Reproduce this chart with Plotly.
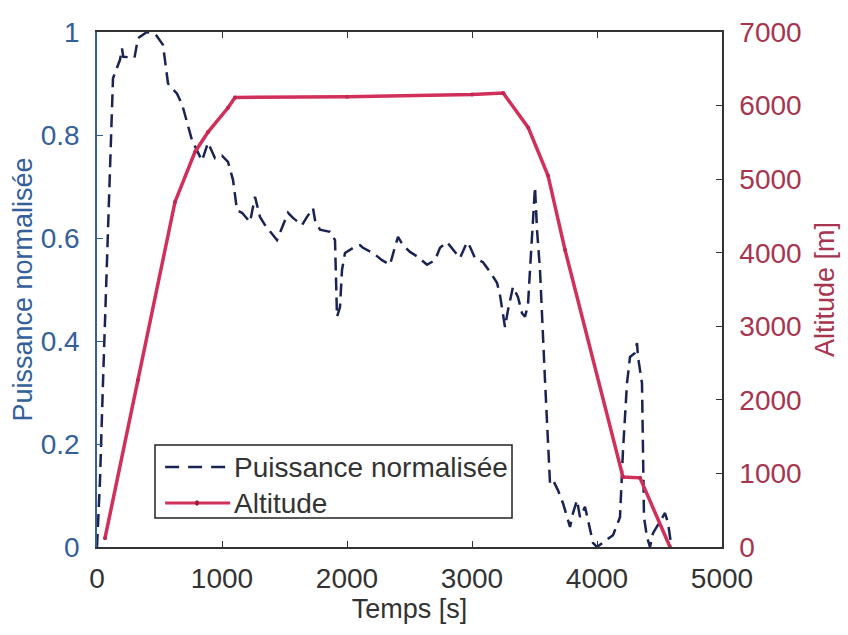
import plotly.graph_objects as go

# ---- data ----
time_power = [0, 24, 48, 88, 112, 128, 184, 200, 210, 300, 328, 400, 470, 528, 568, 640, 680,
              760, 840, 888, 944, 1000, 1048, 1088, 1120, 1160, 1224, 1264, 1304, 1344, 1440,
              1464, 1528, 1568, 1640, 1680, 1728, 1744, 1784, 1864, 1904, 1920, 1944, 1960,
              1984, 2064, 2104, 2128, 2208, 2280, 2344, 2384, 2408, 2448, 2504, 2568, 2640,
              2704, 2744, 2800, 2864, 2904, 2960, 2984, 3024, 3088, 3144, 3200, 3224, 3264,
              3288, 3328, 3368, 3400, 3424, 3448, 3464, 3488, 3504, 3520, 3544, 3584, 3616,
              3624, 3648, 3688, 3728, 3784, 3808, 3840, 3864, 3904, 3928, 3968, 4000, 4080,
              4128, 4184, 4208, 4240, 4264, 4304, 4320, 4328, 4360, 4376, 4400, 4424, 4448,
              4544, 4568, 4590]
power = [0.0, 0.13, 0.32, 0.62, 0.79, 0.91, 0.946, 0.968, 0.952, 0.95, 0.988, 1.0, 0.995,
         0.975, 0.90, 0.88, 0.86, 0.79, 0.75, 0.785, 0.755, 0.76, 0.748, 0.713, 0.654, 0.649,
         0.631, 0.68, 0.641, 0.625, 0.596, 0.61, 0.649, 0.639, 0.625, 0.641, 0.658, 0.635,
         0.616, 0.612, 0.596, 0.447, 0.466, 0.538, 0.571, 0.583, 0.586, 0.581, 0.571, 0.557,
         0.548, 0.583, 0.602, 0.586, 0.573, 0.563, 0.548, 0.557, 0.581, 0.592, 0.573, 0.561,
         0.592, 0.583, 0.561, 0.553, 0.534, 0.513, 0.489, 0.427, 0.46, 0.505, 0.485, 0.454,
         0.447, 0.47, 0.538, 0.649, 0.699, 0.616, 0.538, 0.324, 0.14, 0.124, 0.13, 0.11,
         0.085, 0.039, 0.066, 0.091, 0.058, 0.078, 0.052, 0.008, 0.0, 0.014, 0.023, 0.058,
         0.188, 0.318, 0.369, 0.377, 0.396, 0.369, 0.318, 0.058, 0.019, 0.0, 0.027, 0.066,
         0.047, 0.01]

time_alt = [64, 328, 624, 784, 888, 1048, 1104, 2000, 3000, 3250, 3450, 3608, 3744, 4208,
            4344, 4584]
altitude = [120, 2270, 4690, 5370, 5640, 5970, 6110, 6120, 6150, 6170, 5700, 5050, 4040,
            950, 940, 0]

series_names = ["Puissance normalisée", "Altitude"]
x_ticks = [0, 1000, 2000, 3000, 4000, 5000]
y_left_ticks = [0, 0.2, 0.4, 0.6, 0.8, 1]
y_left_labels = ["0", "0.2", "0.4", "0.6", "0.8", "1"]
y_right_ticks = [0, 1000, 2000, 3000, 4000, 5000, 6000, 7000]

BLUE = "#34609a"
RED_TXT = "#a8354f"
NAVY = "#1b2352"
RED_LINE = "#d0305a"
FONT = "Liberation Sans, Arial, sans-serif"
TICK_SIZE = 28
TITLE_SIZE = 27
DASH = "13px,7px"

fig = go.Figure()
fig.add_trace(go.Scatter(
    x=time_power, y=power, name=series_names[0], mode="lines",
    line=dict(color=NAVY, width=2.5, dash=DASH), yaxis="y", showlegend=False))
fig.add_trace(go.Scatter(
    x=time_alt, y=altitude, name=series_names[1], mode="lines+markers",
    line=dict(color=RED_LINE, width=3.5), marker=dict(size=4, color="#c02850"),
    yaxis="y2", showlegend=False))

# ---- legend box drawn in paper coordinates (MATLAB style) ----
shapes = [
    dict(type="rect", xref="paper", yref="paper", x0=0.0928, x1=0.664, y0=0.0563, y1=0.198,
         line=dict(color="#222", width=1.5), fillcolor="white", layer="above"),
    dict(type="line", xref="paper", yref="paper", x0=0.109, x1=0.213, y0=0.1553, y1=0.1553,
         line=dict(color=NAVY, width=2.5, dash="14px,9px"), layer="above"),
    dict(type="line", xref="paper", yref="paper", x0=0.109, x1=0.213, y0=0.0854, y1=0.0854,
         line=dict(color=RED_LINE, width=3), layer="above"),
    dict(type="circle", xref="paper", yref="paper", x0=0.1575, x1=0.1625,
         y0=0.0854 - 0.0045, y1=0.0854 + 0.0045,
         line=dict(color="#a02040", width=1), fillcolor="#a02040", layer="above"),
]
annotations = [
    dict(xref="paper", yref="paper", x=0.216, y=0.1553, text=series_names[0],
         showarrow=False, xanchor="left", yanchor="middle",
         font=dict(size=TICK_SIZE, color="#333")),
    dict(xref="paper", yref="paper", x=0.216, y=0.0854, text=series_names[1],
         showarrow=False, xanchor="left", yanchor="middle",
         font=dict(size=TICK_SIZE, color="#333")),
]

fig.update_layout(
    width=848, height=635,
    margin=dict(l=97, r=126, t=32, b=88),
    paper_bgcolor="white", plot_bgcolor="white",
    font=dict(family=FONT, size=TICK_SIZE, color="#333"),
    showlegend=False,
    shapes=shapes, annotations=annotations,
    xaxis=dict(range=[0, 5000], tickvals=x_ticks, ticks="inside", ticklen=6,
               showline=True, linecolor="#333", linewidth=1.5, mirror="ticks",
               tickcolor="#333", showgrid=False, zeroline=False,
               tickfont=dict(size=TICK_SIZE, color="#333"), ticklabelstandoff=6,
               title=dict(text="Temps [s]", font=dict(size=TITLE_SIZE, color="#333"),
                          standoff=2)),
    yaxis=dict(range=[0, 1], tickvals=y_left_ticks, ticktext=y_left_labels,
               ticks="inside", ticklen=6, showline=True, linecolor=BLUE, linewidth=1.5,
               tickcolor=BLUE, showgrid=False, zeroline=False,
               tickfont=dict(size=TICK_SIZE, color=BLUE), ticklabelstandoff=10,
               title=dict(text="Puissance normalisée", font=dict(size=TITLE_SIZE, color=BLUE),
                          standoff=0)),
    yaxis2=dict(range=[0, 7000], tickvals=y_right_ticks, overlaying="y", side="right",
                ticks="inside", ticklen=6, showline=True, linecolor="#333", linewidth=1.5,
                tickcolor="#333", showgrid=False, zeroline=False,
                tickfont=dict(size=TICK_SIZE, color=RED_TXT), ticklabelstandoff=10,
                title=dict(text="Altitude [m]", font=dict(size=TITLE_SIZE, color=RED_TXT),
                           standoff=14)),
)

fig.write_html("out.html", config={"displayModeBar": False},
               post_script="document.body.style.margin='0px';")
